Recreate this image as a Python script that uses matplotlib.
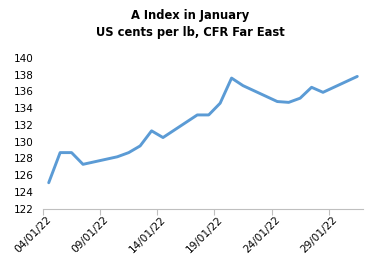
import datetime as dt
import matplotlib
matplotlib.use("Agg")
import matplotlib.pyplot as plt
import matplotlib.dates as mdates
from matplotlib.transforms import ScaledTranslation, blended_transform_factory

# A Index daily quotes, January 2022 (weekdays only)
days = [4, 5, 6, 7, 10, 11, 12, 13, 14, 17, 18, 19, 20, 21, 24, 25, 26, 27, 28, 31]
values = [125.1, 128.7, 128.7, 127.3, 128.2, 128.7, 129.5, 131.3, 130.5, 133.2,
          133.2, 134.6, 137.6, 136.7, 134.8, 134.7, 135.2, 136.5, 135.9, 137.8]
tick_days = [4, 9, 14, 19, 24, 29]
title = "A Index in January\nUS cents per lb, CFR Far East"

plt.rcParams["font.family"] = ["DejaVu Sans"]

# Excel date axis puts each point in the middle of its day
dates = [dt.datetime(2022, 1, d, 12) for d in days]
ticks = [dt.datetime(2022, 1, d) for d in tick_days]

fig = plt.figure(figsize=(3.73, 2.65), dpi=100)
ax = fig.add_axes([43 / 373, 1 - 208.7 / 265, 320 / 373, 150.7 / 265])

ax.plot(dates, values, color="#5B9BD5", linewidth=2.1, solid_capstyle="round")

ax.set_xlim(dt.datetime(2022, 1, 4), dt.datetime(2022, 2, 1))
ax.set_ylim(122, 140)
ax.set_yticks(range(122, 141, 2))
ax.set_xticks(ticks)
ax.set_xticklabels([])

ax.tick_params(axis="x", length=4, color="#BFBFBF")
ax.tick_params(axis="y", labelsize=7.5, length=0, pad=6.5)

# rotated date labels, drawn so their end sits just right of each tick
trans = blended_transform_factory(ax.transData, ax.transAxes)
trans = trans + ScaledTranslation(7 / 100, -9 / 100, fig.dpi_scale_trans)
for t in ticks:
    ax.text(mdates.date2num(t), 0, t.strftime("%d/%m/%y"), transform=trans,
            rotation=45, rotation_mode="anchor", ha="right", va="center",
            fontsize=7.6)

for side in ["top", "right", "left"]:
    ax.spines[side].set_visible(False)
ax.spines["bottom"].set_color("#BFBFBF")

fig.text(0.51, 0.965, title, ha="center", va="top", fontsize=8.3,
         fontweight="bold", linespacing=1.4)

fig.savefig("out.png", dpi=100)
